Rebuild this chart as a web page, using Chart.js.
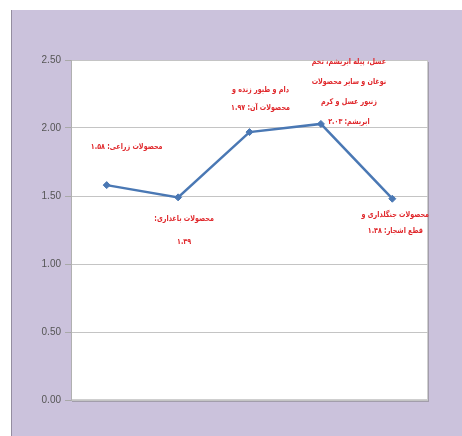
<!DOCTYPE html>
<html>
<head>
<meta charset="utf-8">
<script src="https://cdn.jsdelivr.net/npm/chart.js@4/dist/chart.umd.min.js"></script>
<style>
  html, body { margin: 0; padding: 0; background: #ffffff; }
  #panel {
    position: absolute; left: 11px; top: 10px; width: 451px; height: 426px;
    background: #cbc2dc; border-left: 1px solid #948da0; box-sizing: border-box;
  }
  #chart { display: block; }
</style>
</head>
<body>
<div id="panel"><canvas id="chart" width="450" height="426"></canvas></div>
<script>
// گروه های محصولات کشاورزی
var categories = [
    ["محصولات زراعی"],
    ["محصولات باغداری:", ""],
    ["دام و طیور زنده و", "محصولات آن"],
    ["عسل، پیله ابریشم، تخم", "نوغان و سایر محصولات", "زنبور عسل و کرم", "ابریشم"],
    ["محصولات جنگلداری و", "قطع اشجار"]
];
var values = [1.58, 1.49, 1.97, 2.03, 1.48];
var yTicks = [0, 0.5, 1, 1.5, 2, 2.5];

// جای برچسب ها نسبت به نقطه: [dx, dy, فاصله سطرها]
var labelPos = [
    [20, -38, 18],
    [6, 22, 23],
    [11, -42, 18],
    [28, -62, 20],
    [3, 16, 16]
];

function faDigits(s) {
    return String(s).replace(/[0-9]/g, function (d) { return "۰۱۲۳۴۵۶۷۸۹"[d]; });
}

function labelLines(i) {
    var lines = categories[i].slice();
    var last = lines.length - 1;
    var v = faDigits(values[i].toFixed(2));
    lines[last] = lines[last] + (lines[last] ? ": " : "") + v;
    return lines;
}

// زمینه سفید و قاب ناحیه نمودار
var plotBg = {
    id: 'plotBg',
    beforeDraw: function (chart) {
        var a = chart.chartArea, ctx = chart.ctx;
        ctx.save();
        ctx.fillStyle = '#a29dab';
        ctx.fillRect(a.left + 1, a.top + 2, a.right - a.left, a.bottom - a.top);
        ctx.fillStyle = '#ffffff';
        ctx.fillRect(a.left, a.top, a.right - a.left, a.bottom - a.top);
        ctx.strokeStyle = '#cfcfcf';
        ctx.lineWidth = 1;
        ctx.strokeRect(a.left + 0.5, a.top + 0.5, a.right - a.left - 1, a.bottom - a.top - 1);
        ctx.restore();
    }
};

// برچسب های قرمز کنار نقطه ها
var pointLabels = {
    id: 'pointLabels',
    afterDatasetsDraw: function (chart) {
        var ctx = chart.ctx;
        var meta = chart.getDatasetMeta(0);
        meta.data.forEach(function (pt, i) {
            var lines = labelLines(i);
            var p = labelPos[i];
            for (var k = 0; k < lines.length; k++) {
                ctx.save();
                ctx.translate(pt.x + p[0], pt.y + p[1] + k * p[2]);
                ctx.scale(0.8, 1);
                ctx.font = 'bold 8px "DejaVu Sans"';
                ctx.fillStyle = '#e0282c';
                ctx.textAlign = 'center';
                ctx.textBaseline = 'middle';
                ctx.direction = 'rtl';
                ctx.fillText(lines[k], 0, 0);
                ctx.restore();
            }
        });
    }
};

new Chart(document.getElementById('chart'), {
    type: 'line',
    data: {
        labels: categories.map(function (c) { return c.join(' '); }),
        datasets: [{
            data: values,
            borderColor: '#4a78b4',
            backgroundColor: '#4a78b4',
            borderWidth: 2.5,
            tension: 0,
            pointStyle: 'rectRot',
            pointRadius: 3.5,
            pointBorderWidth: 1,
            fill: false
        }]
    },
    options: {
        responsive: false,
        animation: false,
        layout: { padding: { left: 0, top: 50, right: 34, bottom: 36 } },
        plugins: {
            legend: { display: false },
            tooltip: { enabled: false }
        },
        scales: {
            x: {
                offset: true,
                afterFit: function (scale) { scale.height = 0; },
                ticks: { display: false },
                grid: { display: false },
                border: { display: false }
            },
            y: {
                min: 0,
                max: 2.5,
                afterBuildTicks: function (scale) {
                    scale.ticks = yTicks.map(function (v) { return { value: v }; });
                },
                afterFit: function (scale) { scale.width = 59; },
                ticks: {
                    color: '#555555',
                    font: { family: 'Liberation Sans', size: 10 },
                    padding: 4,
                    callback: function (v) { return v.toFixed(2); }
                },
                grid: {
                    color: '#c4c4c4',
                    tickLength: 6,
                    tickColor: '#a8a8a8'
                },
                border: { color: '#b0b0b0' }
            }
        }
    },
    plugins: [plotBg, pointLabels]
});
</script>
</body>
</html>
